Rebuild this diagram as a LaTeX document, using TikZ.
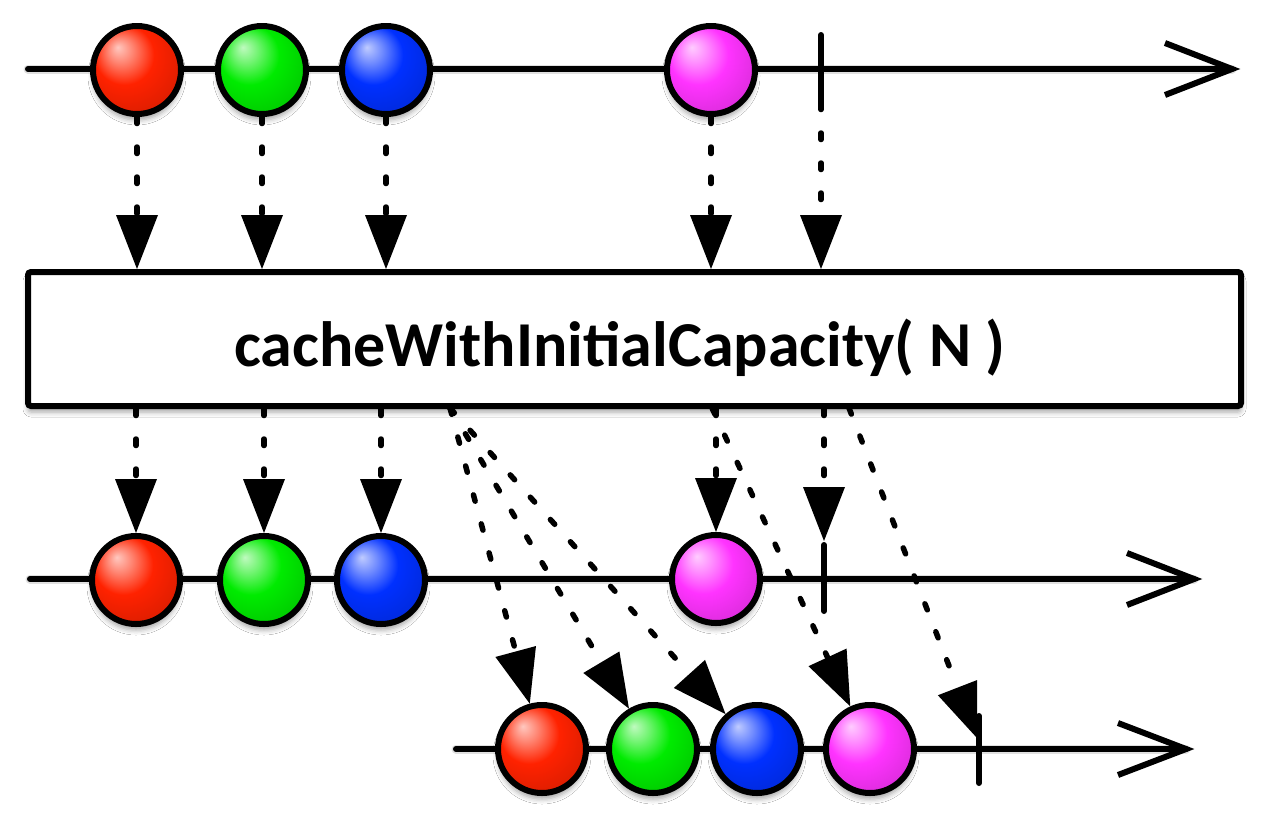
\documentclass[tikz,border=0pt]{standalone}
\usepackage{fontspec}
\setmainfont{Carlito}
\usetikzlibrary{arrows.meta,shadows.blur}
\definecolor{cred}{RGB}{255,34,0}
\definecolor{cgreen}{RGB}{0,235,0}
\definecolor{cblue}{RGB}{0,48,255}
\definecolor{cmag}{RGB}{255,51,255}
\pgfdeclareradialshading{shred}{\pgfpoint{-11bp}{13bp}}{color(0bp)=(cred!25!white); color(7bp)=(cred!55!white); color(17bp)=(cred); color(30bp)=(cred!88!black); color(39bp)=(cred!60!black); color(50bp)=(cred!55!black)}
\pgfdeclareradialshading{shgreen}{\pgfpoint{-11bp}{13bp}}{color(0bp)=(cgreen!25!white); color(7bp)=(cgreen!55!white); color(17bp)=(cgreen); color(30bp)=(cgreen!88!black); color(39bp)=(cgreen!60!black); color(50bp)=(cgreen!55!black)}
\pgfdeclareradialshading{shblue}{\pgfpoint{-11bp}{13bp}}{color(0bp)=(cblue!25!white); color(7bp)=(cblue!55!white); color(17bp)=(cblue); color(30bp)=(cblue!88!black); color(39bp)=(cblue!60!black); color(50bp)=(cblue!55!black)}
\pgfdeclareradialshading{shmag}{\pgfpoint{-11bp}{13bp}}{color(0bp)=(cmag!25!white); color(7bp)=(cmag!55!white); color(17bp)=(cmag); color(30bp)=(cmag!88!black); color(39bp)=(cmag!60!black); color(50bp)=(cmag!55!black)}
\begin{document}
\begin{tikzpicture}[x=1pt,y=-1pt,
  tl/.style={line width=6pt, line cap=round},
  tlshadow/.style={line width=9pt, line cap=round, black, opacity=0.12, yshift=-5pt},
  chev/.style={line width=6pt, line cap=butt, line join=miter},
  tick/.style={line width=6pt, line cap=round},
  ballnode/.style={circle, draw=black, line width=6pt, minimum size=88pt, inner sep=0pt,
    blur shadow={shadow xshift=0pt, shadow yshift=-6pt, shadow blur radius=5pt, shadow opacity=35}},
  dasharrow/.style={line width=5.5pt, line cap=round, dash pattern=on 6.5pt off 23.5pt,
    -{Triangle[length=54pt,width=42pt,line width=0pt]}},
  opboxstyle/.style={draw=black, fill=white, line width=6pt, rounded corners=3pt,
    minimum width=1213pt, minimum height=134pt, inner sep=0pt,
    blur shadow={shadow xshift=0pt, shadow yshift=-6pt, shadow blur radius=5pt, shadow opacity=35}},
]
\useasboundingbox (0,0) rectangle (1280,820);
\fill[white] (0,0) rectangle (1280,820);

% timeline coordinates
\coordinate (s1) at (28,69);   \coordinate (e1) at (1232,69);
\coordinate (s2) at (30,579);  \coordinate (e2) at (1194,579);
\coordinate (s3) at (456,749); \coordinate (e3) at (1186,749);

% shadows of timelines
\draw[tlshadow] (s1) -- (e1);
\draw[tlshadow] (s2) -- (e2);
\draw[tlshadow] (s3) -- (e3);

% timelines
\draw[tl] (s1) -- (e1);
\draw[chev] (e1) +(-67,-26) -- (e1) -- +(-67,26);
\draw[tl] (s2) -- (e2);
\draw[chev] (e2) +(-67,-26) -- (e2) -- +(-67,26);
\draw[tl] (s3) -- (e3);
\draw[chev] (e3) +(-68,-26) -- (e3) -- +(-68,26);

% ticks (completions)
\coordinate (t1a) at (821,35);  \coordinate (t1b) at (821,103);
\coordinate (t2a) at (824,545); \coordinate (t2b) at (824,611);
\coordinate (t3a) at (979,716); \coordinate (t3b) at (979,783);
\draw[tick] (t1a) -- (t1b);
\draw[tick] (t2a) -- (t2b);
\draw[tick] (t3a) -- (t3b);

% operator box
\node[opboxstyle] (opbox) at (634.5,339) {};
\node[anchor=base, font=\bfseries\fontsize{64}{76}\selectfont, inner sep=0pt] (lbl) at (620,366) {cacheWithInitialCapacity( N )};

% balls
\node[ballnode, shading=shred]   (r1) at (137,70) {};
\node[ballnode, shading=shgreen] (g1) at (262,70) {};
\node[ballnode, shading=shblue]  (b1) at (386,70) {};
\node[ballnode, shading=shmag]   (m1) at (711,70) {};

\node[ballnode, shading=shred]   (r2) at (136,580) {};
\node[ballnode, shading=shgreen] (g2) at (264,580) {};
\node[ballnode, shading=shblue]  (b2) at (381,580) {};
\node[ballnode, shading=shmag]   (m2) at (716,579) {};

\node[ballnode, shading=shred]   (r3) at (542,749) {};
\node[ballnode, shading=shgreen] (g3) at (653,749) {};
\node[ballnode, shading=shblue]  (b3) at (757,749) {};
\node[ballnode, shading=shmag]   (m3) at (870,749) {};

% arrows into the operator
\draw[dasharrow] (r1.south) -- (r1.south |- opbox.north);
\draw[dasharrow] (g1.south) -- (g1.south |- opbox.north);
\draw[dasharrow] (b1.south) -- (b1.south |- opbox.north);
\draw[dasharrow] (m1.south) -- (m1.south |- opbox.north);
\draw[dasharrow] (t1b) -- (t1b |- opbox.north);

% arrows out to the first subscriber
\draw[dasharrow] (opbox.south -| r2) -- (r2.north);
\draw[dasharrow] (opbox.south -| g2) -- (g2.north);
\draw[dasharrow] (opbox.south -| b2) -- (b2.north);
\draw[dasharrow] (opbox.south -| m2) -- (m2.north);
\coordinate (t2top) at (824,541);
\draw[dasharrow] (opbox.south -| t2top) -- (t2top);

% replayed arrows to the late subscriber
\coordinate (d0) at (450,408);
\coordinate (dm) at (712,408);
\coordinate (dt) at (849,408);
\coordinate (t3top) at (977,738);
\draw[dasharrow] (d0) -- (r3);
\draw[dasharrow] (d0) -- (g3);
\draw[dasharrow] (d0) -- (b3);
\draw[dasharrow] (dm) -- (m3);
\draw[dasharrow] (dt) -- (t3top);
\end{tikzpicture}
\end{document}
